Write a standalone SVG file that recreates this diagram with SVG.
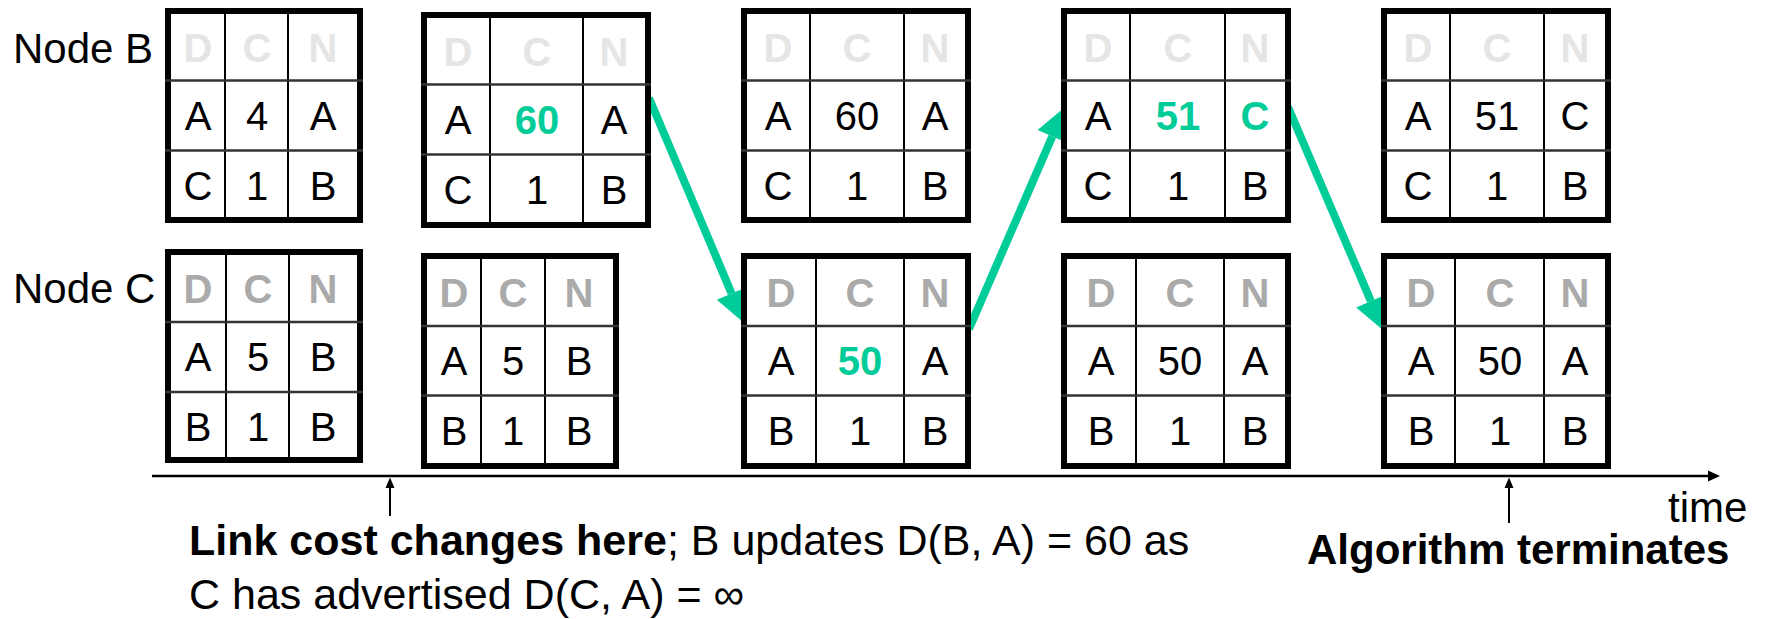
<svg xmlns="http://www.w3.org/2000/svg" width="1765" height="619" viewBox="0 0 1765 619">
<style>
.box{fill:#fff;stroke:#000;stroke-width:6}
.vl{stroke:#000;stroke-width:2}
.hl{stroke:#333;stroke-width:2.5}
.t{font-family:"Liberation Sans",Arial,sans-serif;font-size:40px;text-anchor:middle;fill:#000}
.hb{font-weight:bold;fill:#e5e5e5}
.hc{font-weight:bold;fill:#aaaaaa}
.g{font-weight:bold;fill:#00cc99}
.lbl{font-family:"Liberation Sans",Arial,sans-serif;font-size:42px;fill:#000}
.big{font-size:43px}
.b{font-weight:bold}
.arr{stroke:#00cc99;stroke-width:8;fill:none;marker-end:url(#ah)}
</style>
<defs>
<marker id="ah" markerUnits="userSpaceOnUse" markerWidth="34" markerHeight="34" refX="0" refY="16" orient="auto" overflow="visible">
<path d="M0,0 L32,16 L0,32 z" fill="#00cc99"/>
</marker>
</defs>
<g id="connectors">
<line class="arr" x1="649" y1="98" x2="731.6" y2="293.5"/>
<line class="arr" x1="969" y1="329" x2="1052.3" y2="136.4"/>
<line class="arr" x1="1288" y1="107" x2="1370.9" y2="301.1"/>
</g>
<g id="B1">
<rect class="box" x="168" y="11" width="192" height="209"/>
<line class="vl" x1="225" y1="11" x2="225" y2="220"/><line class="vl" x1="288" y1="11" x2="288" y2="220"/>
<line class="hl" x1="165" y1="80.5" x2="363" y2="80.5"/><line class="hl" x1="165" y1="150.5" x2="363" y2="150.5"/>
<text class="t hb" x="198" y="62">D</text><text class="t hb" x="257" y="62">C</text><text class="t hb" x="323" y="62">N</text>
<text class="t" x="198" y="130">A</text><text class="t" x="257" y="130">4</text><text class="t" x="323" y="130">A</text>
<text class="t" x="198" y="200">C</text><text class="t" x="257" y="200">1</text><text class="t" x="323" y="200">B</text>
</g>
<g id="B2">
<rect class="box" x="424" y="15" width="224" height="210"/>
<line class="vl" x1="490" y1="15" x2="490" y2="225"/><line class="vl" x1="583" y1="15" x2="583" y2="225"/>
<line class="hl" x1="421" y1="84.5" x2="651" y2="84.5"/><line class="hl" x1="421" y1="154.5" x2="651" y2="154.5"/>
<text class="t hb" x="458" y="66">D</text><text class="t hb" x="537" y="66">C</text><text class="t hb" x="614" y="66">N</text>
<text class="t" x="458" y="134">A</text><text class="t g" x="537" y="134">60</text><text class="t" x="614" y="134">A</text>
<text class="t" x="458" y="204">C</text><text class="t" x="537" y="204">1</text><text class="t" x="614" y="204">B</text>
</g>
<g id="B3">
<rect class="box" x="744" y="11" width="224" height="209"/>
<line class="vl" x1="810" y1="11" x2="810" y2="220"/><line class="vl" x1="904" y1="11" x2="904" y2="220"/>
<line class="hl" x1="741" y1="80.5" x2="971" y2="80.5"/><line class="hl" x1="741" y1="150.5" x2="971" y2="150.5"/>
<text class="t hb" x="778" y="62">D</text><text class="t hb" x="857" y="62">C</text><text class="t hb" x="935" y="62">N</text>
<text class="t" x="778" y="130">A</text><text class="t" x="857" y="130">60</text><text class="t" x="935" y="130">A</text>
<text class="t" x="778" y="200">C</text><text class="t" x="857" y="200">1</text><text class="t" x="935" y="200">B</text>
</g>
<g id="B4">
<rect class="box" x="1064" y="11" width="224" height="209"/>
<line class="vl" x1="1130" y1="11" x2="1130" y2="220"/><line class="vl" x1="1225" y1="11" x2="1225" y2="220"/>
<line class="hl" x1="1061" y1="80.5" x2="1291" y2="80.5"/><line class="hl" x1="1061" y1="150.5" x2="1291" y2="150.5"/>
<text class="t hb" x="1098" y="62">D</text><text class="t hb" x="1178" y="62">C</text><text class="t hb" x="1255" y="62">N</text>
<text class="t" x="1098" y="130">A</text><text class="t g" x="1178" y="130">51</text><text class="t g" x="1255" y="130">C</text>
<text class="t" x="1098" y="200">C</text><text class="t" x="1178" y="200">1</text><text class="t" x="1255" y="200">B</text>
</g>
<g id="B5">
<rect class="box" x="1384" y="11" width="224" height="209"/>
<line class="vl" x1="1450" y1="11" x2="1450" y2="220"/><line class="vl" x1="1544" y1="11" x2="1544" y2="220"/>
<line class="hl" x1="1381" y1="80.5" x2="1611" y2="80.5"/><line class="hl" x1="1381" y1="150.5" x2="1611" y2="150.5"/>
<text class="t hb" x="1418" y="62">D</text><text class="t hb" x="1497" y="62">C</text><text class="t hb" x="1575" y="62">N</text>
<text class="t" x="1418" y="130">A</text><text class="t" x="1497" y="130">51</text><text class="t" x="1575" y="130">C</text>
<text class="t" x="1418" y="200">C</text><text class="t" x="1497" y="200">1</text><text class="t" x="1575" y="200">B</text>
</g>
<g id="C1">
<rect class="box" x="168" y="252" width="192" height="208"/>
<line class="vl" x1="226" y1="252" x2="226" y2="460"/><line class="vl" x1="289" y1="252" x2="289" y2="460"/>
<line class="hl" x1="165" y1="322" x2="363" y2="322"/><line class="hl" x1="165" y1="392" x2="363" y2="392"/>
<text class="t hc" x="198" y="303">D</text><text class="t hc" x="258" y="303">C</text><text class="t hc" x="323" y="303">N</text>
<text class="t" x="198" y="371">A</text><text class="t" x="258" y="371">5</text><text class="t" x="323" y="371">B</text>
<text class="t" x="198" y="441">B</text><text class="t" x="258" y="441">1</text><text class="t" x="323" y="441">B</text>
</g>
<g id="C2">
<rect class="box" x="424" y="256" width="192" height="210"/>
<line class="vl" x1="481" y1="256" x2="481" y2="466"/><line class="vl" x1="545" y1="256" x2="545" y2="466"/>
<line class="hl" x1="421" y1="326" x2="619" y2="326"/><line class="hl" x1="421" y1="395.5" x2="619" y2="395.5"/>
<text class="t hc" x="454" y="307">D</text><text class="t hc" x="513" y="307">C</text><text class="t hc" x="579" y="307">N</text>
<text class="t" x="454" y="375">A</text><text class="t" x="513" y="375">5</text><text class="t" x="579" y="375">B</text>
<text class="t" x="454" y="445">B</text><text class="t" x="513" y="445">1</text><text class="t" x="579" y="445">B</text>
</g>
<g id="C3">
<rect class="box" x="744" y="256" width="224" height="210"/>
<line class="vl" x1="816" y1="256" x2="816" y2="466"/><line class="vl" x1="904" y1="256" x2="904" y2="466"/>
<line class="hl" x1="741" y1="326" x2="971" y2="326"/><line class="hl" x1="741" y1="395.5" x2="971" y2="395.5"/>
<text class="t hc" x="781" y="307">D</text><text class="t hc" x="860" y="307">C</text><text class="t hc" x="935" y="307">N</text>
<text class="t" x="781" y="375">A</text><text class="t g" x="860" y="375">50</text><text class="t" x="935" y="375">A</text>
<text class="t" x="781" y="445">B</text><text class="t" x="860" y="445">1</text><text class="t" x="935" y="445">B</text>
</g>
<g id="C4">
<rect class="box" x="1064" y="256" width="224" height="210"/>
<line class="vl" x1="1136" y1="256" x2="1136" y2="466"/><line class="vl" x1="1224" y1="256" x2="1224" y2="466"/>
<line class="hl" x1="1061" y1="326" x2="1291" y2="326"/><line class="hl" x1="1061" y1="395.5" x2="1291" y2="395.5"/>
<text class="t hc" x="1101" y="307">D</text><text class="t hc" x="1180" y="307">C</text><text class="t hc" x="1255" y="307">N</text>
<text class="t" x="1101" y="375">A</text><text class="t" x="1180" y="375">50</text><text class="t" x="1255" y="375">A</text>
<text class="t" x="1101" y="445">B</text><text class="t" x="1180" y="445">1</text><text class="t" x="1255" y="445">B</text>
</g>
<g id="C5">
<rect class="box" x="1384" y="256" width="224" height="210"/>
<line class="vl" x1="1455" y1="256" x2="1455" y2="466"/><line class="vl" x1="1544" y1="256" x2="1544" y2="466"/>
<line class="hl" x1="1381" y1="326" x2="1611" y2="326"/><line class="hl" x1="1381" y1="395.5" x2="1611" y2="395.5"/>
<text class="t hc" x="1421" y="307">D</text><text class="t hc" x="1500" y="307">C</text><text class="t hc" x="1575" y="307">N</text>
<text class="t" x="1421" y="375">A</text><text class="t" x="1500" y="375">50</text><text class="t" x="1575" y="375">A</text>
<text class="t" x="1421" y="445">B</text><text class="t" x="1500" y="445">1</text><text class="t" x="1575" y="445">B</text>
</g>
<g id="labels">
<text class="lbl" x="13" y="63">Node B</text>
<text class="lbl" x="13" y="303">Node C</text>
</g>
<g id="timeline">
<line x1="152" y1="476" x2="1709" y2="476" stroke="#000" stroke-width="2.5"/>
<polygon points="1708,470.5 1720,476 1708,481.5" fill="#000"/>
<line x1="390" y1="486" x2="390" y2="516" stroke="#000" stroke-width="2"/>
<polygon points="385.5,488 390,477.5 394.5,488" fill="#000"/>
<line x1="1509" y1="486" x2="1509" y2="523" stroke="#000" stroke-width="2"/>
<polygon points="1504.5,488 1509,477.5 1513.5,488" fill="#000"/>
<text class="lbl" x="1668" y="522">time</text>
<text class="lbl b" x="1307" y="564">Algorithm terminates</text>
<text class="lbl big" x="189" y="555"><tspan class="b">Link cost changes here</tspan>; B updates D(B, A) = 60 as</text>
<text class="lbl big" x="189" y="609">C has advertised D(C, A) = ∞</text>
</g>
</svg>
